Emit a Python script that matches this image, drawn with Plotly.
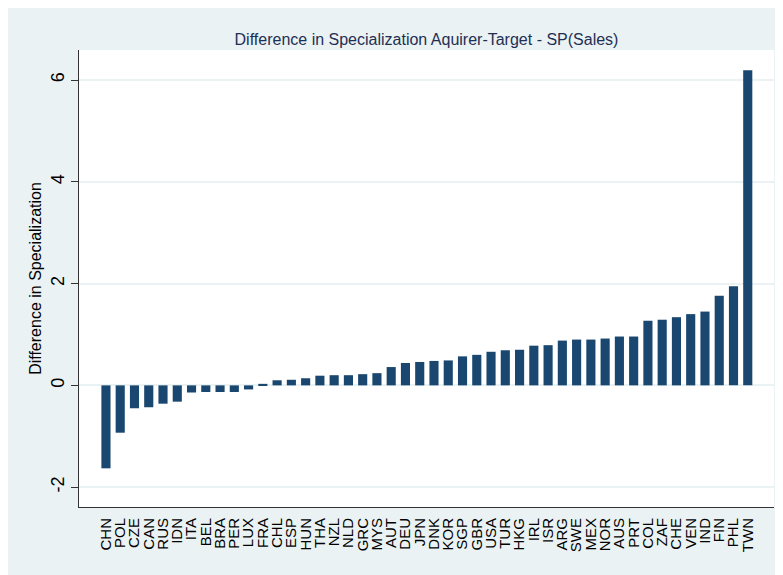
import plotly.graph_objects as go

countries = ["CHN", "POL", "CZE", "CAN", "RUS", "IDN", "ITA", "BEL", "BRA", "PER",
             "LUX", "FRA", "CHL", "ESP", "HUN", "THA", "NZL", "NLD", "GRC", "MYS",
             "AUT", "DEU", "JPN", "DNK", "KOR", "SGP", "GBR", "USA", "TUR", "HKG",
             "IRL", "ISR", "ARG", "SWE", "MEX", "NOR", "AUS", "PRT", "COL", "ZAF",
             "CHE", "VEN", "IND", "FIN", "PHL", "TWN"]
diff_spec = [-1.63, -0.93, -0.45, -0.43, -0.36, -0.32, -0.14, -0.13, -0.13, -0.13,
             -0.08, 0.03, 0.10, 0.11, 0.14, 0.19, 0.20, 0.20, 0.22, 0.24,
             0.36, 0.44, 0.46, 0.48, 0.49, 0.57, 0.60, 0.66, 0.69, 0.70,
             0.78, 0.79, 0.88, 0.90, 0.90, 0.92, 0.96, 0.96, 1.27, 1.29,
             1.34, 1.40, 1.45, 1.76, 1.95, 6.19]
y_ticks = [-2, 0, 2, 4, 6]

BG = "#EAF2F3"
FONT = "Liberation Sans, Arial, sans-serif"
W, H = 775, 567

fig = go.Figure()
fig.add_trace(go.Bar(
    x=countries, y=diff_spec,
    marker=dict(color="#1A476F", line=dict(width=0)),
    width=0.64,
))

fig.update_layout(
    width=W, height=H,
    margin=dict(l=71, r=9, t=42, b=68, autoexpand=False),
    paper_bgcolor=BG,
    plot_bgcolor="white",
    showlegend=False,
    font=dict(family=FONT, color="black"),
    title=dict(
        text="Difference in Specialization Aquirer-Target - SP(Sales)",
        x=(71 + 766) / 2 / W, xanchor="center",
        y=1 - 31 / H, yanchor="middle",
        font=dict(family=FONT, size=16, color="#1E2F55"),
    ),
)

fig.update_xaxes(
    type="category",
    range=[-1.89, 46.84],
    tickmode="linear", tick0=0, dtick=1,
    tickangle=-90,
    tickfont=dict(size=15, color="black"),
    ticks="",
    showgrid=False,
    showline=True, linecolor="#333333", linewidth=1,
    ticklabelstandoff=4,
    automargin=False,
)
fig.update_yaxes(
    range=[-2.39, 6.59],
    tickvals=y_ticks,
    ticktext=[str(v) for v in y_ticks],
    tickangle=-90,
    tickfont=dict(size=18, color="black"),
    ticks="outside", ticklen=7, tickcolor="#333333", tickwidth=1,
    showgrid=True, gridcolor=BG, gridwidth=1.5,
    zeroline=False,
    showline=True, linecolor="#333333", linewidth=1,
    title=dict(text="Difference in Specialization", font=dict(size=16, color="black"), standoff=2),
    automargin=False,
)

fig.write_html("out.html")
